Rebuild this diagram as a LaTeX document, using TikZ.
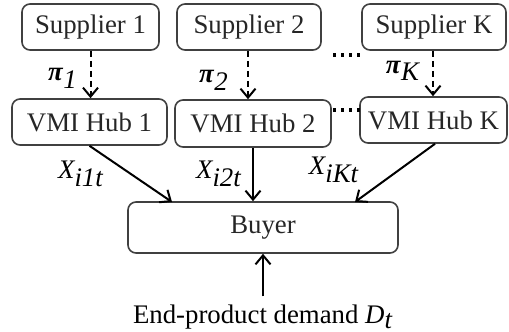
\documentclass[tikz,border=0pt]{standalone}
\usepackage{fontspec}
\setmainfont{Liberation Serif}
\usetikzlibrary{arrows.meta}
\tikzset{
  boxnode/.style={draw=black!75, line width=0.8pt, rounded corners=4pt,
    inner sep=0pt, font=\fontsize{13.4pt}{15pt}\selectfont, text=black!85},
  lbl/.style={inner sep=0pt, font=\fontsize{13.4pt}{15pt}\selectfont},
  arr/.style={line width=1pt, -{Straight Barb[length=4.5pt,width=7.5pt,line width=1pt]}},
  darr/.style={arr, dash pattern=on 3pt off 2pt},
  dots/.style={line width=1.6pt, dash pattern=on 1.6pt off 2.4pt}
}
\begin{document}
\begin{tikzpicture}[x=0.5pt, y=-0.5pt]
    \useasboundingbox (0,0) rectangle (509,332);

    % suppliers
    \node[boxnode, minimum width=68.5pt, minimum height=23pt] (s1) at (90.5,27) {Supplier 1};
    \node[boxnode, minimum width=72pt, minimum height=23pt] (s2) at (249,27) {Supplier 2};
    \node[boxnode, minimum width=72pt, minimum height=23pt] (sK) at (434,27) {Supplier K};

    % hubs
    \node[boxnode, minimum width=77.5pt, minimum height=23pt] (h1) at (89.5,122) {VMI Hub 1};
    \node[boxnode, minimum width=78pt, minimum height=23.5pt] (h2) at (253,123.5) {VMI Hub 2};
    \node[boxnode, minimum width=73.5pt, minimum height=23pt] (hK) at (433.5,120) {VMI Hub K};

    % buyer and demand
    \node[boxnode, minimum width=135pt, minimum height=25.5pt] (buyer) at (263,227.5) {Buyer};
    \node[lbl] (dem) at (263,317) {End-product demand $\textit{D}_{\textit{t}}$};

    \coordinate (b1) at (172,202);
    \coordinate (bK) at (355,202);

    % order flows
    \draw[darr] (s1.south) -- (s1.south |- h1.north);
    \draw[darr] ([xshift=-0.5pt]s2.south) -- ([xshift=-0.5pt]s2.south |- h2.north);
    \draw[darr] ([xshift=-0.5pt]sK.south) -- ([xshift=-0.5pt]sK.south |- hK.north);

    \draw[arr] (h1.south) -- (b1);
    \draw[arr] (h2.south) -- (h2.south |- buyer.north);
    \draw[arr] ([xshift=0.75pt]hK.south) -- (bK);
    \draw[arr] ([yshift=4pt]dem.north) -- (buyer.south);

    % dots
    \draw[dots] (333,55) -- (364,55);
    \draw[dots] (333,110) -- (364,110);

    % labels
    \node[lbl] (p1) at (63,78) {$\textbf{\textit{π}}_{\textit{1}}$};
    \node[lbl] (p2) at (214,80) {$\textbf{\textit{π}}_{\textit{2}}$};
    \node[lbl] (pK) at (403,71) {$\textbf{\textit{π}}_{\textit{K}}$};
    \node[lbl] (x1) at (81,174) {$\textit{X}_{\textit{i1t}}$};
    \node[lbl] (x2) at (219,174) {$\textit{X}_{\textit{i2t}}$};
    \node[lbl] (xK) at (334,170) {$\textit{X}_{\textit{iKt}}$};
\end{tikzpicture}
\end{document}
